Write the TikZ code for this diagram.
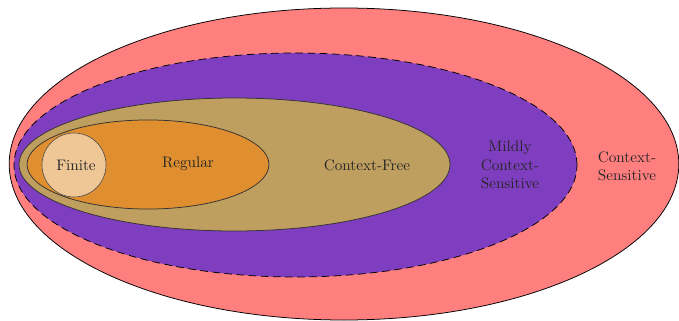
\documentclass[tikz,border=0pt]{standalone}
\usetikzlibrary{shapes.geometric}
\definecolor{cspink}{RGB}{255,127,127}
\definecolor{mcspurple}{RGB}{127,62,191}
\definecolor{cftan}{RGB}{191,159,95}
\definecolor{regorange}{RGB}{223,143,47}
\definecolor{finpeach}{RGB}{239,199,151}
\tikzset{
  langset/.style={ellipse, draw=black, inner sep=0pt, line width=0.5pt},
  lbl/.style={align=center, inner sep=0pt, font=\normalsize, text=black!85}
}
\begin{document}
\begin{tikzpicture}[x=0.658pt,y=-0.658pt]
\useasboundingbox (0,0) rectangle (679,321);
\node[langset, fill=cspink, minimum width=440.6pt, minimum height=205.3pt] (cs) at (344,164) {};
\node[langset, fill=mcspurple, dash pattern=on 5pt off 3pt, minimum width=370.5pt, minimum height=147.4pt] (mcs) at (295.5,165) {};
\node[langset, fill=cftan, draw=black!80, minimum width=283.6pt, minimum height=87.5pt] (cf) at (234.5,164.5) {};
\node[langset, fill=regorange, draw=black!80, minimum width=159.2pt, minimum height=58.6pt] (reg) at (148,164.5) {};
\node[circle, draw=black!70, fill=finpeach, inner sep=0pt, minimum size=42.1pt] (fin) at (74,165) {};
\node[lbl] (finlbl) at (76,165) {Finite};
\node[lbl] (reglbl) at (188,164) {Regular};
\node[lbl] (cflbl) at (367,165) {Context-Free};
\node[lbl] (mcslbl) at (510,165) {Mildly\\Context-\\Sensitive};
\node[lbl] (cslbl) at (627,166) {Context-\\Sensitive};
\end{tikzpicture}
\end{document}
